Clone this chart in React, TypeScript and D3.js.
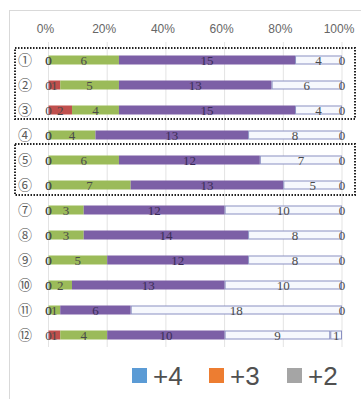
import React from "react";
import * as d3 from "d3";

const rowLabels = ["①", "②", "③", "④", "⑤", "⑥", "⑦", "⑧", "⑨", "⑩", "⑪", "⑫"];
const leadValues = [0, 0, 0, 0, 0, 0, 0, 0, 0, 0, 0, 0];
const redValues = [0, 1, 2, 0, 0, 0, 0, 0, 0, 0, 0, 1];
const greenValues = [6, 5, 4, 4, 6, 7, 3, 3, 5, 2, 1, 4];
const purpleValues = [15, 13, 15, 13, 12, 13, 12, 14, 12, 13, 6, 10];
const whiteValues = [4, 6, 4, 8, 7, 5, 10, 8, 8, 10, 18, 9];
const tailValues = [0, 0, 0, 0, 0, 0, 0, 0, 0, 0, 0, 1];
const tickValues = [0, 0.2, 0.4, 0.6, 0.8, 1];
const legendItems = [
  { label: "+4", color: "#5b9bd5" },
  { label: "+3", color: "#ed7d31" },
  { label: "+2", color: "#a5a5a5" },
];

const seriesKeys = ["lead", "red", "green", "purple", "white", "tail"];
const seriesStyle: Record<string, { fill: string; stroke: string }> = {
  lead: { fill: "#5b9bd5", stroke: "none" },
  red: { fill: "#c0504d", stroke: "none" },
  green: { fill: "#9bbb59", stroke: "none" },
  purple: { fill: "#7c5fa6", stroke: "none" },
  white: { fill: "#f6f8fd", stroke: "#8a90c2" },
  tail: { fill: "#f6f8fd", stroke: "#8a90c2" },
};

const rows = rowLabels.map((label, i) => ({
  label,
  lead: leadValues[i],
  red: redValues[i],
  green: greenValues[i],
  purple: purpleValues[i],
  white: whiteValues[i],
  tail: tailValues[i],
}));

export default function App() {
  const width = 361;
  const height = 399;
  const x = d3.scaleLinear().domain([0, 1]).range([48.5, 342]);
  const y = d3
    .scaleBand<string>()
    .domain(rowLabels)
    .range([47.5, 347.5])
    .paddingInner(0.64)
    .paddingOuter(0.32);

  const stacked = d3
    .stack<any>()
    .keys(seriesKeys)
    .offset(d3.stackOffsetExpand)(rows);

  const labelFont = "'Liberation Serif', 'DejaVu Serif', serif";
  const axisFont = "'Liberation Sans', 'DejaVu Sans', sans-serif";

  return (
    <svg
      width={width}
      height={height}
      style={{ position: "absolute", left: 0, top: 0, background: "#fff" }}
    >
      <rect x={9.5} y={10.5} width={360} height={400} fill="#fff" stroke="#d9d9d9" />

      {/* vertical gridlines */}
      {tickValues.map((t) => (
        <line
          key={"g" + t}
          x1={x(t)}
          x2={x(t)}
          y1={42}
          y2={347}
          stroke="#e3e3e3"
          strokeWidth={1}
        />
      ))}
      {tickValues.map((t) => (
        <text
          key={"t" + t}
          x={x(t) - 3}
          y={33}
          textAnchor="middle"
          fontFamily={axisFont}
          fontSize={12}
          fill="#666"
        >
          {d3.format(".0%")(t)}
        </text>
      ))}

      {/* row labels */}
      {rowLabels.map((l) => (
        <text
          key={"r" + l}
          x={25}
          y={(y(l) ?? 0) + y.bandwidth() / 2 + 5}
          textAnchor="middle"
          fontFamily="'Noto Sans CJK JP', 'DejaVu Sans', sans-serif"
          fontSize={14}
          fill="#5a5a5a"
        >
          {l}
        </text>
      ))}

      {/* stacked bars */}
      {stacked.map((s) => (
        <g key={s.key}>
          {s.map((d, i) => {
            const by = y(rowLabels[i]) ?? 0;
            const w = x(d[1]) - x(d[0]);
            if (w <= 0) return null;
            const st = seriesStyle[s.key];
            const inset = st.stroke !== "none" ? 0.5 : 0;
            return (
              <rect
                key={i}
                x={x(d[0]) + inset}
                y={by + inset}
                width={Math.max(0, w - inset * 2)}
                height={y.bandwidth() - inset * 2}
                fill={st.fill}
                stroke={st.stroke}
                strokeWidth={1}
              />
            );
          })}
        </g>
      ))}

      {/* segment value labels */}
      {stacked.map((s) => (
        <g key={"l" + s.key}>
          {s.map((d, i) => {
            const by = y(rowLabels[i]) ?? 0;
            const v = (rows[i] as any)[s.key];
            const cx = (x(d[0]) + x(d[1])) / 2;
            return (
              <text
                key={i}
                x={cx}
                y={by + y.bandwidth() / 2 + 4.5}
                textAnchor="middle"
                fontFamily={labelFont}
                fontSize={13}
                fill={s.key === "purple" ? "#3b2d57" : "#4a4a4a"}
              >
                {v}
              </text>
            );
          })}
        </g>
      ))}

      {/* dotted group frames */}
      <rect
        x={15}
        y={48}
        width={340}
        height={71}
        fill="none"
        stroke="#222"
        strokeWidth={2}
        strokeDasharray="1.5 1.5"
      />
      <rect
        x={15}
        y={144}
        width={340}
        height={51}
        fill="none"
        stroke="#222"
        strokeWidth={2}
        strokeDasharray="1.5 1.5"
      />

      {/* legend */}
      {legendItems.map((it, i) => {
        const lx = [132, 209, 287][i];
        return (
          <g key={it.label}>
            <rect x={lx} y={368} width={15} height={15} fill={it.color} />
            <text
              x={lx + 21}
              y={385}
              fontFamily={axisFont}
              fontSize={26}
              fill="#505050"
            >
              {it.label}
            </text>
          </g>
        );
      })}
    </svg>
  );
}
